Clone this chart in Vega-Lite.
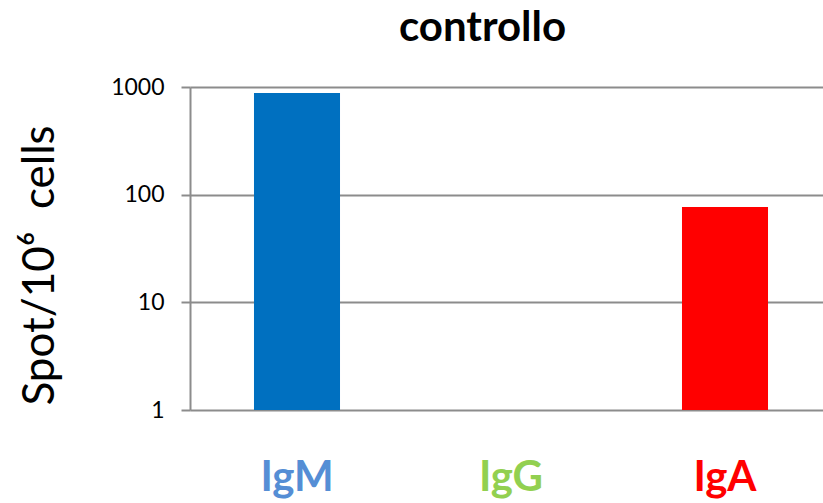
{
  "$schema": "https://vega.github.io/schema/vega-lite/v6.json",
  "width": 633,
  "height": 323,
  "autosize": {"type": "none"},
  "padding": {"left": 190, "top": 87, "right": 0, "bottom": 93},
  "background": "white",
  "config": {"view": {"stroke": null}, "font": "Lato"},
  "title": {
    "text": "controllo",
    "font": "Lato",
    "fontSize": 42,
    "fontWeight": "bold",
    "color": "#000000",
    "anchor": "middle",
    "dx": -24,
    "offset": 26
  },
  "data": {
    "values": [
      {"isotype": "IgM", "spots": 880},
      {"isotype": "IgG", "spots": null},
      {"isotype": "IgA", "spots": 77}
    ]
  },
  "mark": {"type": "bar"},
  "encoding": {
    "x": {
      "field": "isotype",
      "type": "nominal",
      "sort": ["IgM", "IgG", "IgA"],
      "scale": {"domain": ["IgM", "IgG", "IgA"], "range": [0, 642], "paddingInner": 0.598, "paddingOuter": 0.299},
      "axis": {
        "title": null,
        "domain": false,
        "ticks": false,
        "grid": false,
        "labelAngle": 0,
        "labelFont": "Lato",
        "labelFontSize": 42,
        "labelFontWeight": "bold",
        "labelPadding": 67,
        "labelBaseline": "middle",
        "labelColor": {"expr": "datum.value == 'IgM' ? '#558ED5' : datum.value == 'IgG' ? '#92D050' : '#FF0000'"}
      }
    },
    "y": {
      "field": "spots",
      "type": "quantitative",
      "scale": {"type": "log", "domain": [1, 1000], "nice": false},
      "axis": {
        "values": [1, 10, 100, 1000],
        "format": "d",
        "grid": true,
        "gridColor": "#8C8C8C",
        "gridWidth": 2,
        "domainColor": "#8C8C8C",
        "domainWidth": 2,
        "tickColor": "#8C8C8C",
        "tickWidth": 2,
        "tickSize": 9,
        "labelPadding": 17,
        "labelFont": "Lato",
        "labelFontSize": 23,
        "labelColor": "#000000",
        "title": "Spot/10⁶\u00a0\u00a0cells",
        "titleFont": "Lato",
        "titleFontSize": 44,
        "titleFontWeight": "normal",
        "titleColor": "#000000",
        "titleAngle": -90,
        "titleX": -150,
        "titleY": 178,
        "titleAlign": "center",
        "titleBaseline": "middle"
      }
    },
    "y2": {"datum": 1},
    "color": {
      "field": "isotype",
      "type": "nominal",
      "scale": {"domain": ["IgM", "IgG", "IgA"], "range": ["#0070C0", "#92D050", "#FF0000"]},
      "legend": null
    }
  }
}
